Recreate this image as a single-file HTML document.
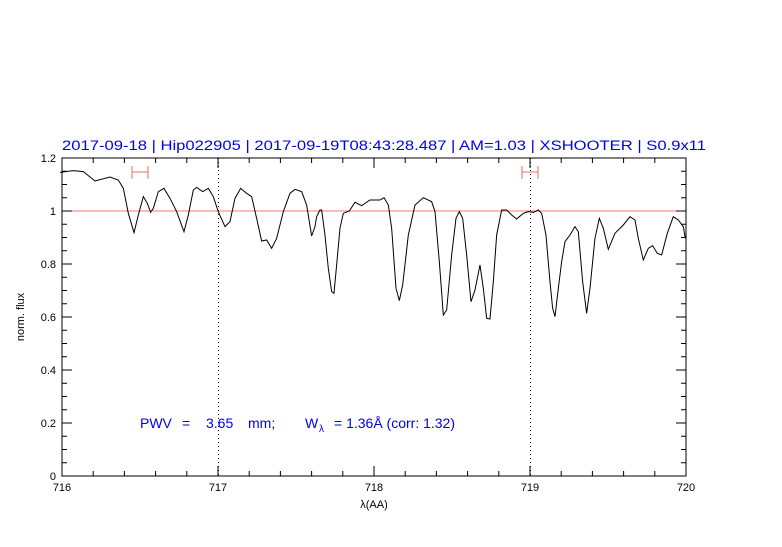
<!DOCTYPE html>
<html><head><meta charset="utf-8"><style>
body{margin:0;background:#fff;}
svg text{font-family:"Liberation Sans",sans-serif;}
</style></head><body>
<svg width="782" height="542" viewBox="0 0 782 542" xmlns="http://www.w3.org/2000/svg">
<rect width="782" height="542" fill="#fff"/>
<text x="384" y="150" text-anchor="middle" font-size="13.5" fill="#0000ee" textLength="644" lengthAdjust="spacingAndGlyphs">2017-09-18 | Hip022905 | 2017-09-19T08:43:28.487 | AM=1.03 | XSHOOTER | S0.9x11</text>
<line x1="62" y1="211" x2="686" y2="211" stroke="#f77" stroke-width="1"/>
<line x1="218.5" y1="158" x2="218.5" y2="476" stroke="#000" stroke-width="1" stroke-dasharray="1,3"/>
<line x1="530.5" y1="158" x2="530.5" y2="476" stroke="#000" stroke-width="1" stroke-dasharray="1,3"/>
<g stroke="#f66" stroke-width="1" fill="none">
<path d="M132 172H148M132 166V179M148 166V179"/>
<path d="M522 172H538M522 166V179M538 166V179"/>
</g>
<g fill="none" stroke="#000" stroke-width="1">
<path transform="translate(60,155) scale(0.3333)" vector-effect="non-scaling-stroke" d="M0 52 L40 47 L70 50 L105 78 L150 66 L175 75 L190 100 L205 175 L222 233 L235 180 L250 125 L262 145 L272 172 L280 160 L295 110 L312 100 L330 130 L350 170 L372 230 L385 180 L400 105 L410 97 L428 110 L445 100 L460 125 L475 170 L495 215 L510 200 L525 130 L542 100 L560 115 L575 125 L590 190 L605 258 L620 255 L635 280 L650 250 L670 170 L690 115 L705 103 L725 110 L740 150 L755 243 L765 215 L770 185 L780 165 L785 165 L795 240 L805 340 L815 410 L822 415 L830 330 L840 220 L850 175 L868 168 L885 142 L905 152 L930 135 L960 135"/>
<path transform="translate(370,155) scale(0.3333)" vector-effect="non-scaling-stroke" d="M0 135 L30 135 L42 128 L55 150 L65 220 L78 400 L88 437 L98 390 L115 240 L135 150 L160 128 L185 140 L195 170 L208 320 L220 480 L230 465 L245 300 L258 190 L268 170 L278 190 L290 300 L303 440 L315 405 L330 330 L340 400 L350 490 L360 492 L370 380 L380 240 L395 165 L410 165 L425 180 L440 192 L460 175 L475 170 L490 172 L505 165 L515 175 L528 240 L540 380 L548 460 L555 485 L565 400 L575 320 L585 260 L600 240 L615 215 L625 230 L638 380 L650 475 L660 400 L675 250 L688 190 L700 220 L715 283 L735 235 L760 210 L780 185 L795 195 L805 250 L820 315 L835 280 L848 272 L862 295 L875 300 L892 235 L910 185 L925 195 L940 215 L946 250"/>
</g>
<rect x="62" y="158" width="624" height="318" fill="none" stroke="#000" stroke-width="1"/>
<g stroke="#000" stroke-width="1">
<path d="M62 476v-10M93.2 476v-5M124.4 476v-5M155.6 476v-5M186.8 476v-5M218 476v-10M249.2 476v-5M280.4 476v-5M311.6 476v-5M342.8 476v-5M374 476v-10M405.2 476v-5M436.4 476v-5M467.6 476v-5M498.8 476v-5M530 476v-10M561.2 476v-5M592.4 476v-5M623.6 476v-5M654.8 476v-5M686 476v-10"/>
<path d="M62 158v10M93.2 158v5M124.4 158v5M155.6 158v5M186.8 158v5M218 158v10M249.2 158v5M280.4 158v5M311.6 158v5M342.8 158v5M374 158v10M405.2 158v5M436.4 158v5M467.6 158v5M498.8 158v5M530 158v10M561.2 158v5M592.4 158v5M623.6 158v5M654.8 158v5M686 158v10"/>
<path d="M62 476h10M62 462.75h5M62 449.5h5M62 436.25h5M62 423h10M62 409.75h5M62 396.5h5M62 383.25h5M62 370h10M62 356.75h5M62 343.5h5M62 330.25h5M62 317h10M62 303.75h5M62 290.5h5M62 277.25h5M62 264h10M62 250.75h5M62 237.5h5M62 224.25h5M62 211h10M62 197.75h5M62 184.5h5M62 171.25h5M62 158h10"/>
<path d="M686 476h-10M686 462.75h-5M686 449.5h-5M686 436.25h-5M686 423h-10M686 409.75h-5M686 396.5h-5M686 383.25h-5M686 370h-10M686 356.75h-5M686 343.5h-5M686 330.25h-5M686 317h-10M686 303.75h-5M686 290.5h-5M686 277.25h-5M686 264h-10M686 250.75h-5M686 237.5h-5M686 224.25h-5M686 211h-10M686 197.75h-5M686 184.5h-5M686 171.25h-5M686 158h-10"/>
</g>
<g font-size="11" fill="#000" text-anchor="middle">
<text x="62" y="491">716</text><text x="218" y="491">717</text><text x="374" y="491">718</text><text x="530" y="491">719</text><text x="686" y="491">720</text>
<text x="374" y="508">λ(AA)</text>
</g>
<g font-size="11" fill="#000" text-anchor="end">
<text x="56" y="480">0</text><text x="56" y="427">0.2</text><text x="56" y="374">0.4</text><text x="56" y="321">0.6</text><text x="56" y="268">0.8</text><text x="56" y="215">1</text><text x="56" y="162">1.2</text>
</g>
<text transform="translate(24,317) rotate(-90)" font-size="11" text-anchor="middle">norm. flux</text>
<g fill="#0000ee" font-size="14">
<text x="140" y="428">PWV</text>
<text x="182" y="428">=</text>
<text x="206" y="428">3.65</text>
<text x="248" y="428">mm;</text>
<text x="305" y="428">W</text>
<text x="319" y="432" font-size="10">λ</text>
<text x="334" y="428">= 1.36Å (corr: 1.32)</text>
</g>
</svg>
</body></html>
